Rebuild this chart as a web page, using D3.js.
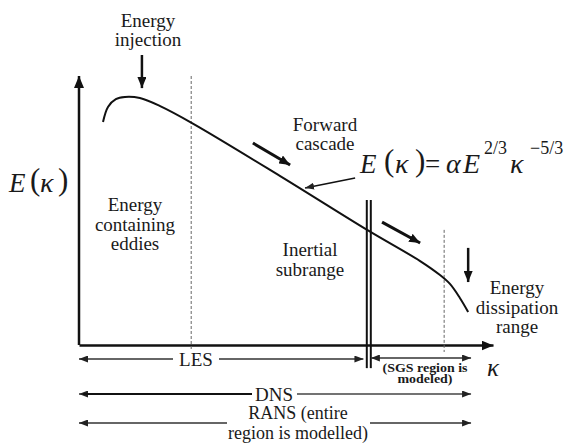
<!DOCTYPE html>
<html><head><meta charset="utf-8">
<script src="https://cdn.jsdelivr.net/npm/d3@7"></script>
<style>
html,body{margin:0;padding:0;background:#fff;}
svg{display:block;}
</style></head>
<body><svg id="c" width="568" height="443"></svg>
<script>
// ---- data (normalised wavenumber 0..100, energy 0..100) ----
const curveK = [5.8, 7.0, 8.9, 11.1, 14.7, 19.6, 27.3, 48.6, 69.6, 82.4, 87.2, 89.6, 92.0, 94.0];
const curveE = [82.9, 88.5, 91.4, 92.2, 91.8, 88.8, 82.5, 62.8, 42.8, 31.2, 26.0, 22.7, 17.5, 12.3];
const kLES = 27.1;          // dashed line: energy containing / inertial
const kCut = 70.0;          // LES filter cut-off (double line)
const kDiss = 88.2;         // dashed line: dissipation start
const kEnd = 94.7;          // end of resolved ranges
const rangeNames = ["LES", "DNS"];
const regionLabels = [["Energy","containing","eddies"],["Inertial","subrange"],["Energy","dissipation","range"]];

const FONT = "'Liberation Serif'";
const svg = d3.select("#c");
const x = d3.scaleLinear().domain([0, 100]).range([79, 493]);
const y = d3.scaleLinear().domain([0, 100]).range([345, 76]);

const defs = svg.append("defs");
function marker(id, w, h, color) {
  defs.append("marker").attr("id", id).attr("viewBox", `0 0 ${w} ${h}`)
    .attr("refX", w).attr("refY", h / 2).attr("markerWidth", w).attr("markerHeight", h)
    .attr("markerUnits", "userSpaceOnUse").attr("orient", "auto-start-reverse")
    .append("path").attr("d", `M0,0L${w},${h/2}L0,${h}Z`).attr("fill", color);
}
marker("big", 12, 10, "#111");
marker("mid", 11, 9, "#111");
marker("small", 9, 7, "#222");

// axes
const ax = svg.append("g").attr("transform", `translate(0,${y(0)})`)
  .call(d3.axisBottom(x).ticks(0).tickSizeOuter(0));
ax.select(".domain").attr("stroke", "#111").attr("stroke-width", 2.5).attr("marker-end", "url(#big)");
const ay = svg.append("g").attr("transform", `translate(${x(0)},0)`)
  .call(d3.axisLeft(y).ticks(0).tickSizeOuter(0));
ay.select(".domain").attr("stroke", "#111").attr("stroke-width", 2.5).attr("d", `M0,${y(0)}V${y(100)}`).attr("marker-end", "url(#big)");

// dashed lines
svg.append("line").attr("x1", x(kLES)).attr("x2", x(kLES)).attr("y1", y(100)).attr("y2", y(-2.6))
  .attr("stroke", "#666").attr("stroke-width", 1).attr("stroke-dasharray", "3,2");
svg.append("line").attr("x1", x(kDiss)).attr("x2", x(kDiss)).attr("y1", y(42.8)).attr("y2", y(-2.6))
  .attr("stroke", "#666").attr("stroke-width", 1).attr("stroke-dasharray", "3,2");

// double cut-off line
[-2, 2].forEach(o => svg.append("line").attr("x1", x(kCut) + o).attr("x2", x(kCut) + o)
  .attr("y1", y(53.9)).attr("y2", y(-8.6)).attr("stroke", "#111").attr("stroke-width", 2));

// spectrum curve
const pts = curveK.map((k, i) => [k, curveE[i]]);
svg.append("path").datum(pts)
  .attr("d", d3.line().x(d => x(d[0])).y(d => y(d[1])).curve(d3.curveCatmullRom.alpha(0.5)))
  .attr("fill", "none").attr("stroke", "#111").attr("stroke-width", 2);

// annotation arrows
function arrow(x1, y1, x2, y2, w, m) {
  svg.append("line").attr("x1", x(x1)).attr("y1", y(y1)).attr("x2", x(x2)).attr("y2", y(y2))
    .attr("stroke", "#111").attr("stroke-width", w).attr("marker-end", `url(#${m})`);
}
arrow(15.2, 107.8, 15.2, 95.5, 2.5, "mid");
arrow(42.0, 75.1, 51.0, 66.9, 3, "mid");
arrow(66.7, 62.1, 54.6, 58.4, 1.5, "small");
arrow(73.2, 45.7, 82.4, 37.9, 3, "mid");
arrow(94.0, 36.1, 94.0, 23.4, 2.5, "mid");

// text helper
function txt() { return svg.append("text").style("font-family", FONT).attr("fill", "#1a1a1a"); }
function lines(arr, cx, cy, lh, size) {
  const t = txt().attr("text-anchor", "middle").attr("font-size", size);
  arr.forEach((s, i) => t.append("tspan").attr("x", cx).attr("y", cy + i * lh).text(s));
  return t;
}
lines(["Energy", "injection"], 148, 27, 19, 19);
lines(["Forward", "cascade"], 325, 131, 19, 19);
lines(regionLabels[0], 135, 211, 19.5, 19);
lines(regionLabels[1], 310, 256, 19.5, 19);
lines(regionLabels[2], 517, 294, 19.5, 19);

// math: one text element, tspans placed left to right
function math(parts) {
  const t = txt();
  parts.forEach(([s, px, py, size, italic]) => {
    const ts = t.append("tspan").attr("x", px).attr("y", py).attr("font-size", size).text(s);
    if (italic) ts.attr("font-style", "italic");
  });
  return t;
}
// E(kappa) axis label
math([["E", 9, 192, 27, true], ["(", 30, 190, 31, false], ["κ", 40, 192, 28, true], [")", 58, 190, 31, false]]);

// formula
const fb = 173;
math([
  ["E", 360, fb, 27, true], ["(", 384, fb - 2, 31, false], ["κ", 395, fb, 28, true], [")", 415, fb - 2, 31, false],
  ["=", 425, fb, 27, false], ["α", 446, fb, 28, true], ["E", 463, fb, 28, true],
  ["2/3", 484, 154, 18, false], ["κ", 510, fb, 28, true], ["−5/3", 530, 154, 18, false]
]);

// kappa axis symbol
txt().attr("x", 493).attr("y", 376).attr("text-anchor", "middle")
  .attr("font-size", 25).attr("font-style", "italic").text("κ");

// range arrows
function hArrow(k1, k2, py, w, col) {
  svg.append("line").attr("x1", x(k1)).attr("x2", x(k2)).attr("y1", py).attr("y2", py)
    .attr("stroke", col).attr("stroke-width", w)
    .attr("marker-start", "url(#small)").attr("marker-end", "url(#small)");
}
// LES
hArrow(0, kCut - 1.3, 359, 1.3, "#333");
svg.append("rect").attr("x", 173).attr("y", 349).attr("width", 46).attr("height", 20).attr("fill", "#fff");
txt().attr("x", 196).attr("y", 366).attr("text-anchor", "middle").attr("font-size", 19).text(rangeNames[0]);
// SGS
hArrow(kCut + 0.5, kEnd, 358, 1.3, "#333");
const sgs = txt().attr("font-size", 11.5).attr("font-weight", "bold").attr("text-anchor", "middle");
sgs.append("tspan").attr("x", 425).attr("y", 372).attr("textLength", 85).attr("lengthAdjust", "spacingAndGlyphs").text("(SGS region is");
sgs.append("tspan").attr("x", 425).attr("y", 383).attr("textLength", 55).attr("lengthAdjust", "spacingAndGlyphs").text("modeled)");
// DNS
hArrow(0, kEnd, 394, 1.3, "#444");
svg.append("line").attr("x1", x(0) + 4).attr("x2", 252).attr("y1", 394).attr("y2", 394).attr("stroke", "#111").attr("stroke-width", 2);
svg.append("rect").attr("x", 252).attr("y", 384).attr("width", 45).attr("height", 20).attr("fill", "#fff");
txt().attr("x", 274).attr("y", 401).attr("text-anchor", "middle").attr("font-size", 19).text(rangeNames[1]);
// RANS
hArrow(0, kEnd, 423, 1.3, "#333");
svg.append("rect").attr("x", 227).attr("y", 403).attr("width", 143).attr("height", 40).attr("fill", "#fff");
lines(["RANS (entire", "region is modelled)"], 298, 419, 20, 18);
</script></body></html>
